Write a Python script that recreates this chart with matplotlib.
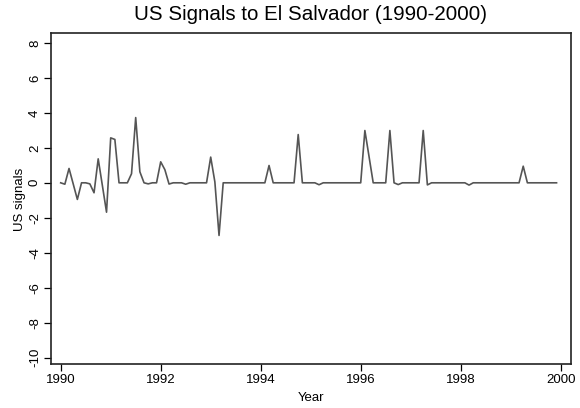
import numpy as np
import matplotlib
matplotlib.use("Agg")
import matplotlib.pyplot as plt

plt.rcParams["font.family"] = ["Liberation Sans", "DejaVu Sans"]

# monthly US signals, Jan 1990 .. Dec 1999 (12 values per row)
start_year = 1990
signals = [
    0.00, -0.08, 0.82, -0.06, -0.95, 0.00, 0.00, -0.06, -0.57, 1.37, -0.15, -1.68,   # 1990
    2.57, 2.48, 0.00, 0.00, 0.00, 0.52, 3.73, 0.63, 0.00, -0.06, 0.00, 0.00,         # 1991
    1.20, 0.75, -0.07, 0.00, 0.00, 0.00, -0.08, 0.00, 0.00, 0.00, 0.00, 0.00,        # 1992
    1.47, 0.05, -3.01, 0.00, 0.00, 0.00, 0.00, 0.00, 0.00, 0.00, 0.00, 0.00,         # 1993
    0.00, 0.00, 0.99, 0.00, 0.00, 0.00, 0.00, 0.00, 0.00, 2.76, 0.00, 0.00,          # 1994
    0.00, 0.00, -0.11, 0.00, 0.00, 0.00, 0.00, 0.00, 0.00, 0.00, 0.00, 0.00,         # 1995
    0.00, 2.99, 1.50, 0.00, 0.00, 0.00, 0.00, 2.99, 0.00, -0.10, 0.00, 0.00,         # 1996
    0.00, 0.00, 0.00, 2.99, -0.12, 0.00, 0.00, 0.00, 0.00, 0.00, 0.00, 0.00,         # 1997
    0.00, 0.00, -0.13, 0.00, 0.00, 0.00, 0.00, 0.00, 0.00, 0.00, 0.00, 0.00,         # 1998
    0.00, 0.00, 0.00, 0.95, 0.00, 0.00, 0.00, 0.00, 0.00, 0.00, 0.00, 0.00,          # 1999
]
years = start_year + np.arange(len(signals)) / 12.0

fig = plt.figure(figsize=(5.8, 4.08), dpi=100)
ax = fig.add_axes([0.0874, 0.107, 0.8966, 0.811])
ax.plot(years, signals, color="#555555", linewidth=1.2)

ax.set_xlim(1989.8, 2000.2)
ax.set_ylim(-10.38, 8.54)
ax.set_xticks(np.arange(1990, 2001, 2))
ax.set_yticks(np.arange(-10, 9, 2))
ax.set_yticklabels([str(v) for v in range(-10, 9, 2)], rotation=90, va="center")
ax.tick_params(direction="out", length=5, width=0.9, labelsize=9.5, pad=2)

for s in ax.spines.values():
    s.set_linewidth(1.2)
    s.set_color("#222222")

ax.set_title("US Signals to El Salvador (1990-2000)", fontsize=14.8, pad=10)
ax.set_xlabel("Year", fontsize=9.5, labelpad=4)
ax.set_ylabel("US signals", fontsize=9.5, labelpad=2)

fig.savefig("out.png", dpi=100, facecolor="white")
